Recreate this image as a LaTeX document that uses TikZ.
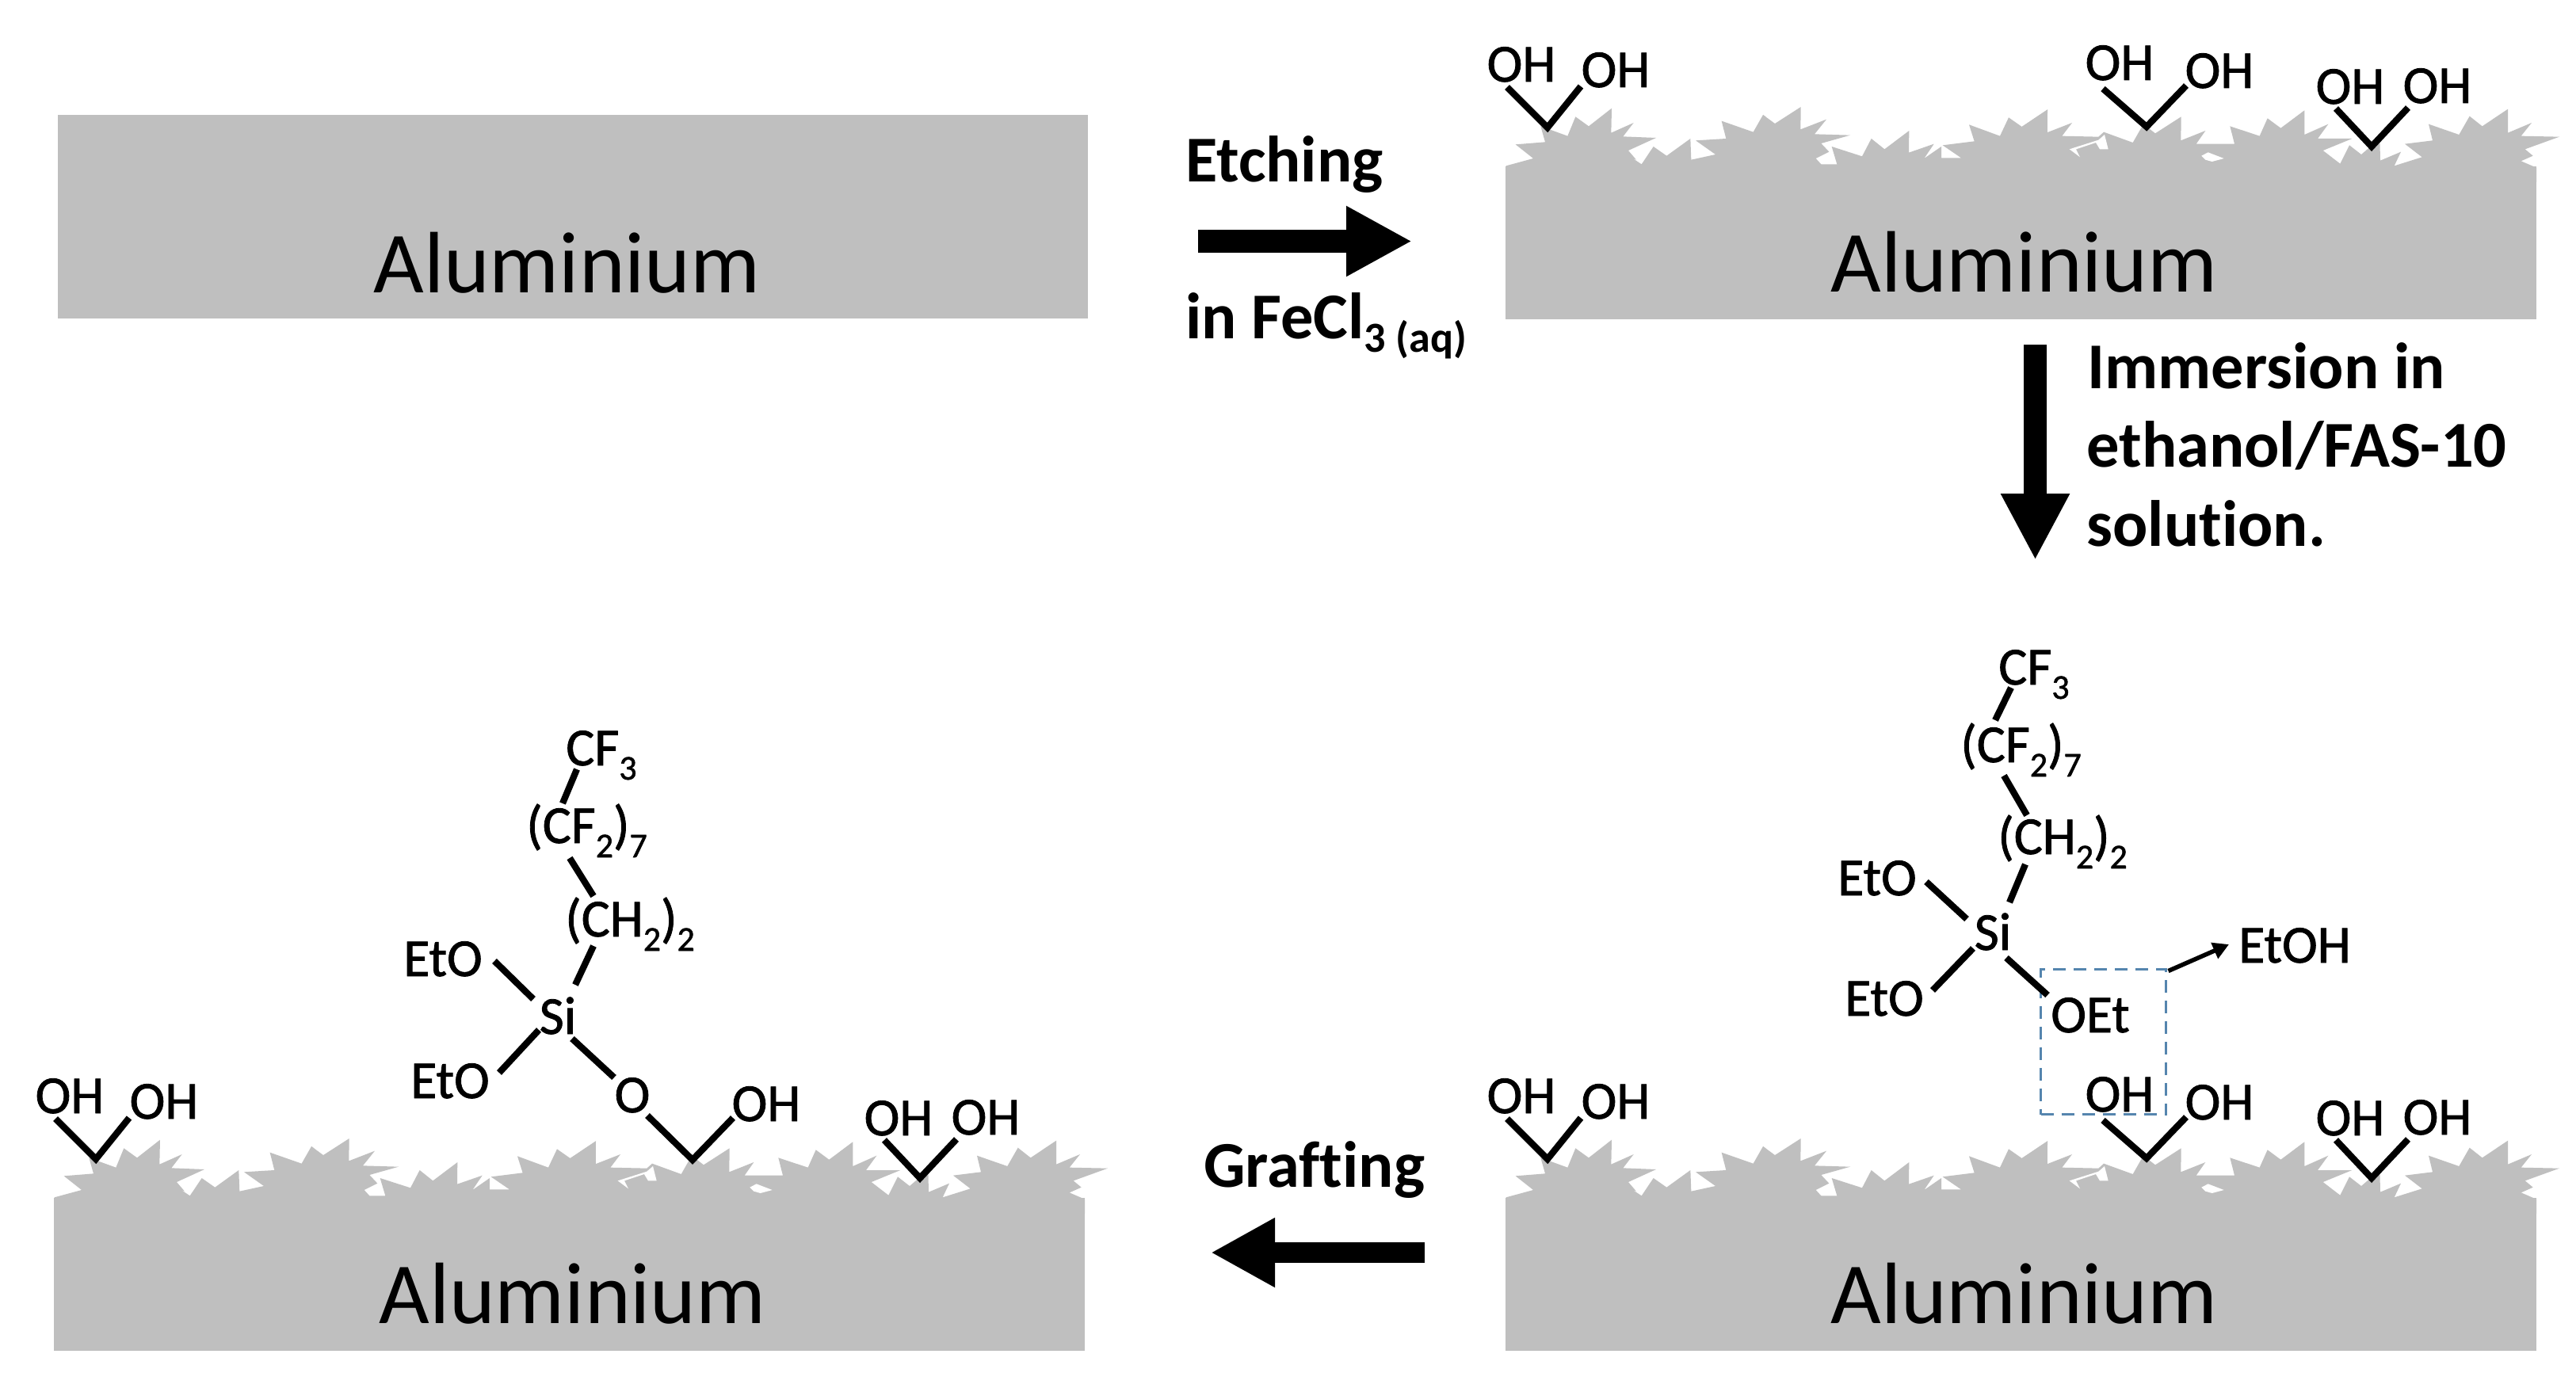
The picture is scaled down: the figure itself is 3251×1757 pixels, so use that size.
\documentclass[tikz,border=0pt]{standalone}
\usepackage{fontspec}
\setmainfont[Ligatures=NoCommon]{Carlito}
\newfontfamily\chemfont[FakeBold=1.2,Ligatures=NoCommon]{Carlito}
\usetikzlibrary{arrows.meta}
\definecolor{alu}{HTML}{BFBFBF}
\definecolor{dashblue}{HTML}{5585AE}
\newcommand{\fsChem}{\chemfont\fontsize{38.4}{42}\selectfont}
\newcommand{\fsBig}{\fontsize{47}{56.6}\selectfont\bfseries}
\newcommand{\fsAlu}{\fontsize{62.6}{70}\selectfont}
\newcommand{\chemsub}[1]{\raisebox{-3.6mm}{\fontsize{25}{26}\selectfont #1}}
\tikzset{
  x=0.02cm,y=-0.02cm,
  bond/.style={line width=1.65mm,line cap=butt,line join=miter},
  chem/.style={inner sep=0pt,font=\fsChem,text height=8.4mm,text depth=0pt,anchor=center},
  chain/.style={inner sep=0pt,font=\fsChem,anchor=base west},
  biglabel/.style={inner sep=0pt,font=\fsBig,anchor=base west},
  alulabel/.style={inner sep=0pt,font=\fsAlu,anchor=base west,text=black},
  hdg/.style={fill=alu,draw=none},
}
% spiked aluminium block in the coordinates of the top-right panel
\newcommand{\spikes}{%
  \fill[hdg] (1900,210) rectangle (3201,403);
  \begin{scope}[shift={(1890,120)},x=0.0066667cm,y=-0.0066667cm]
    \fill[hdg] (32,330)--(32,268)--(135,240)--(68,187)--(180,178)--(163,118)--(265,155)--(295,82)--(345,118)--(432,50)--(430,143)--(515,105)--(475,157)--(600,162)--(495,210)--(525,245)--(512,240)--(545,262)--(590,195)--(640,230)--(730,165)--(733,245)--(825,225)--(750,172)--(865,165)--(848,98)--(968,140)--(1005,75)--(1015,82)--(1015,330)--cycle;
  \end{scope}
  \begin{scope}[shift={(2230,120)},x=0.0066667cm,y=-0.0066667cm]
    \fill[hdg] (-15,330)--(-15,75)--(30,108)--(128,45)--(127,130)--(225,92)--(180,148)--(315,152)--(205,183)--(235,215)--(185,240)--(205,262)--(265,262)--(245,195)--(360,232)--(395,165)--(445,205)--(538,135)--(537,218)--(632,185)--(595,240)--(660,195)--(660,238)--(735,238)--(665,190)--(785,175)--(765,112)--(882,155)--(915,85)--(965,120)--(1062,55)--(1061,330)--cycle;
  \end{scope}
  \begin{scope}[shift={(2570,120)},x=0.0066667cm,y=-0.0066667cm]
    \fill[hdg] (-55,330)--(-55,120)--(42,55)--(40,142)--(135,105)--(97,155)--(235,158)--(255,140)--(365,180)--(405,110)--(450,145)--(548,82)--(547,172)--(640,135)--(605,185)--(750,185)--(733,118)--(845,155)--(875,88)--(925,125)--(1013,60)--(1013,330)--cycle;
    \fill[white] (125,205)--(165,235)--(150,205)--(225,180)--(240,205)--(272,205)--(258,150)--(235,170)--cycle;
    \fill[white] (625,230)--(650,217)--(710,240)--(665,252)--(640,245)--cycle;
  \end{scope}
  \begin{scope}[shift={(2890,120)},x=0.0066667cm,y=-0.0066667cm]
    \fill[hdg] (0,330)--(0,100)--(55,58)--(55,150)--(145,110)--(105,165)--(235,165)--(125,210)--(190,260)--(225,190)--(270,225)--(340,165)--(342,248)--(420,215)--(395,268)--(500,235)--(435,185)--(540,172)--(525,110)--(640,150)--(680,80)--(728,118)--(825,53)--(825,143)--(915,105)--(875,155)--(1020,158)--(890,205)--(920,230)--(875,250)--(933,275)--(933,330)--cycle;
  \end{scope}
  \node[alulabel] (alu) at (2310,368) {Aluminium};
}
\newcommand{\ohA}{%
  \node[chem] (a1) at (1920,82) {OH};
  \node[chem] (a2) at (2039,89) {OH};
  \coordinate (aV) at (1953,161);
  \draw[bond] ([shift={(-18,28)}]a1.center) -- (aV) -- ([shift={(-44,20)}]a2.center);
}
\newcommand{\ohB}{%
  \node[chem] (b1) at (2675,80) {OH};
  \node[chem] (b2) at (2801,90) {OH};
  \coordinate (bV) at (2709,160);
  \draw[bond] ([shift={(-21,32)}]b1.center) -- (bV) -- ([shift={(-42,18)}]b2.center);
}
\newcommand{\ohC}{%
  \node[chem] (c1) at (2966,110) {OH};
  \node[chem] (c2) at (3076,109) {OH};
  \coordinate (cV) at (2993,185);
  \draw[bond] ([shift={(-18,27)}]c1.center) -- (cV) -- ([shift={(-37,27)}]c2.center);
}
\begin{document}
\begin{tikzpicture}
\useasboundingbox (0,0) rectangle (3251,1757);
\fill[white] (0,0) rectangle (3251,1757);

% top-left plain block
\fill[hdg] (73,145) rectangle (1373,402);
\node[alulabel] (alu0) at (471,369) {Aluminium};

% top-right panel
\begin{scope}[name prefix=tr-]
  \spikes \ohA \ohB \ohC
\end{scope}

% bottom-right panel
\begin{scope}[shift={(0,1302)},name prefix=br-]
  \spikes \ohA \ohB \ohC
\end{scope}

% bottom-left panel
\begin{scope}[shift={(-1832,1302)},name prefix=bl-]
  \spikes \ohA \ohC
\end{scope}

% process labels and block arrows
\node[biglabel] (etch) at (1496,230) {Etching};
\node[biglabel] (fecl) at (1496,427) {in FeCl\raisebox{-3.6mm}{\fontsize{30.8}{32}\selectfont 3 (aq)}};
\coordinate (e1) at (1512,304.5);
\coordinate (e2) at (1782,304.5);
\draw[line width=5.8mm,-{Triangle[length=16.6mm,width=16.6mm]}] (e1) -- (e2);

\coordinate (i1) at (2568.5,435);
\coordinate (i2) at (2568.5,707);
\draw[line width=5.8mm,-{Triangle[length=16.8mm,width=16.2mm]}] (i1) -- (i2);
\node[biglabel] (imm1) at (2634,490) {Immersion in};
\node[biglabel] (imm2) at (2633,589) {ethanol/FAS-10};
\node[biglabel] (imm3) at (2633,689) {solution.};

\node[biglabel] (graft) at (1519,1498) {Grafting};
\coordinate (g1) at (1798,1581);
\coordinate (g2) at (1528,1581);
\draw[line width=5.2mm,-{Triangle[length=16.2mm,width=16.4mm]}] (g1) -- (g2);

% molecule, bottom right
\node[chain] (rcf3) at (2522,864) {CF\chemsub{3}};
\node[chain] (rcf2) at (2474,962) {(CF\chemsub{2})\chemsub{7}};
\node[chain] (rch2) at (2521,1078) {(CH\chemsub{2})\chemsub{2}};
\node[chem] (rsi) at (2515,1178) {Si};
\node[chem] (reto1) at (2369,1109) {EtO};
\node[chem] (reto2) at (2378,1261) {EtO};
\node[chem] (roet) at (2638,1282) {OEt};
\node[chem] (reth) at (2896,1194) {EtOH};
\node[draw=dashblue,line width=0.6mm,dash pattern=on 3.2mm off 2mm,minimum width=31.5mm,minimum height=36.8mm,inner sep=0pt] (rbox) at (2654.25,1315) {};
\draw[bond] ([shift={(62,4)}]reto1.center) -- ([shift={(-33,-18)}]rsi.center);
\draw[bond] ([shift={(61,-11)}]reto2.center) -- ([shift={(-25,19)}]rsi.center);
\draw[bond] ([shift={(17,31)}]rsi.center) -- ([shift={(-54,-26)}]roet.center);
\draw[bond] ([shift={(21,-39)}]rsi.center) -- ([shift={(35,13)}]rch2.base west);
\draw[bond] ([shift={(37,-49)}]rch2.base west) -- ([shift={(55,17)}]rcf2.base west);
\draw[bond] ([shift={(44,-53)}]rcf2.base west) -- ([shift={(16,4)}]rcf3.base west);
\draw[line width=1.1mm,-{Triangle[length=4mm,width=4.2mm]}] ([shift={(2,4)}]rbox.north east) -- ([shift={(-83,-2)}]reth.center);

% molecule, bottom left
\node[chain] (lcf3) at (714,966) {CF\chemsub{3}};
\node[chain] (lcf2) at (664,1064) {(CF\chemsub{2})\chemsub{7}};
\node[chain] (lch2) at (713,1182) {(CH\chemsub{2})\chemsub{2}};
\node[chem] (lsi) at (704,1284) {Si};
\node[chem] (leto1) at (559,1211) {EtO};
\node[chem] (leto2) at (568,1365) {EtO};
\node[chem] (lo) at (798,1383) {O};
\node[chem] (loh) at (967,1394) {OH};
\coordinate (lV) at (874,1464);
\draw[bond] ([shift={(65,2)}]leto1.center) -- ([shift={(-31,-23)}]lsi.center);
\draw[bond] ([shift={(62,-11)}]leto2.center) -- ([shift={(-24,16)}]lsi.center);
\draw[bond] ([shift={(18,27)}]lsi.center) -- ([shift={(-23,-23)}]lo.center);
\draw[bond] ([shift={(22,-41)}]lsi.center) -- ([shift={(36,12)}]lch2.base west);
\draw[bond] ([shift={(36,-51)}]lch2.base west) -- ([shift={(55,19)}]lcf2.base west);
\draw[bond] ([shift={(46,-50)}]lcf2.base west) -- ([shift={(14,5)}]lcf3.base west);
\draw[bond] ([shift={(19,25)}]lo.center) -- (lV) -- ([shift={(-42,17)}]loh.center);
\end{tikzpicture}
\end{document}
